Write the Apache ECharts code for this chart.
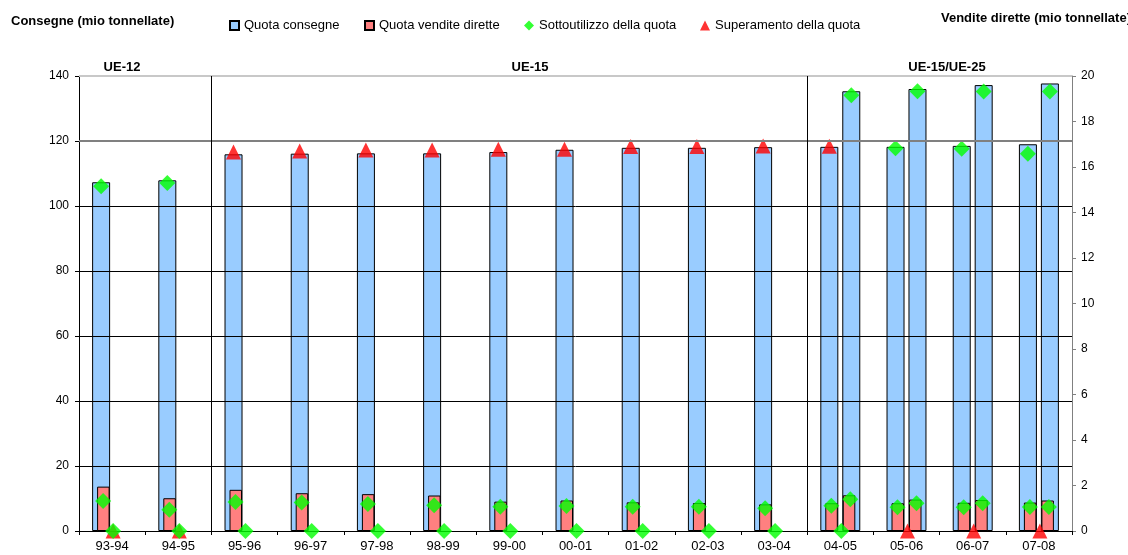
<!DOCTYPE html>
<html>
<head>
<meta charset="utf-8">
<title>Quote latte: consegne e vendite dirette</title>
<script src="https://cdn.jsdelivr.net/npm/echarts@6/dist/echarts.min.js"></script>
<style>
  html, body { margin: 0; padding: 0; background: #ffffff; }
  #chart { width: 1128px; height: 555px; }
</style>
</head>
<body>
<div id="chart"></div>
<script>
// Campagne lattiere
const categories = ['93-94', '94-95', '95-96', '96-97', '97-98', '98-99', '99-00', '00-01',
                    '01-02', '02-03', '03-04', '04-05', '05-06', '06-07', '07-08'];

// Quota consegne (mio t, asse sinistro): colonna UE-12/UE-15 e colonna UE-25
const quotaConsegneA = [107.3, 107.9, 115.9, 116.1, 116.2, 116.2, 116.6, 117.3, 117.9, 117.9, 118.1, 118.2, 118.2, 118.5, 119.0];
const quotaConsegneB = [null, null, null, null, null, null, null, null, null, null, null, 135.3, 136.0, 137.2, 137.7];

// Consegne effettive (mio t, asse sinistro)
const consegneEffA = [106.1, 107.1, 116.6, 116.9, 117.2, 117.2, 117.5, 117.5, 118.3, 118.3, 118.5, 118.4, 117.8, 117.6, 116.1];
const consegneEffB = [null, null, null, null, null, null, null, null, null, null, null, 134.1, 135.3, 135.2, 135.2];

// Quota vendite dirette (mio t, asse destro)
const quotaVenditeA = [1.95, 1.44, 1.81, 1.66, 1.62, 1.56, 1.29, 1.34, 1.26, 1.23, 1.17, 1.22, 1.22, 1.24, 1.25];
const quotaVenditeB = [null, null, null, null, null, null, null, null, null, null, null, 1.57, 1.38, 1.36, 1.34];

// Vendite dirette effettive (mio t, asse destro)
const venditeEffA = [1.32, 0.93, 1.28, 1.25, 1.19, 1.13, 1.07, 1.10, 1.07, 1.07, 1.00, 1.11, 1.04, 1.04, 1.06];
const venditeEffB = [null, null, null, null, null, null, null, null, null, null, null, 1.40, 1.22, 1.22, 1.06];

// Indicatori a quota zero (asse destro)
const zeroSotto = [0, 0, 0, 0, 0, 0, 0, 0, 0, 0, 0, 0, null, null, null];
const zeroSuper = [0, 0, null, null, null, null, null, null, null, null, null, null, 0, 0, 0];

// Gruppi di Stati membri e numero di campagne per gruppo
const gruppi = ['UE-12', 'UE-15', 'UE-15/UE-25'];
const campagnePerGruppo = [2, 9, 4];

// Tacche degli assi
const tickConsegne = [0, 20, 40, 60, 80, 100, 120, 140];
const tickVendite = [0, 2, 4, 6, 8, 10, 12, 14, 16, 18, 20];

const FONT = '"Liberation Sans", Arial, sans-serif';
const BLU = '#99CCFF', ROSSO = '#FF8080', VERDE = '#00FF00', TRIANGOLO = '#FF0000';

// Split effective values into under-quota (diamond) and over-quota (triangle)
function sotto(eff, quota) { return eff.map((v, i) => (v != null && quota[i] != null && v <= quota[i]) ? v : null); }
function sopra(eff, quota) { return eff.map((v, i) => (v != null && quota[i] != null && v > quota[i]) ? v : null); }

// Group separators at cumulative category boundaries
const separatori = [];
campagnePerGruppo.reduce((acc, n, i) => {
  const fine = acc + n;
  if (i < campagnePerGruppo.length - 1) separatori.push(fine);
  return fine;
}, 0);

// Gridline styles (the two top lines are lighter and thicker)
const gridStyle = v => {
  if (v === tickConsegne[tickConsegne.length - 1]) return { color: '#c8c8c8', width: 2, type: 'solid' };
  if (v === tickConsegne[tickConsegne.length - 2]) return { color: '#808080', width: 2, type: 'solid' };
  return { color: '#000000', width: 1, type: 'solid' };
};

const DIAMANTE = 16, TRI = [15, 15];

const markerBase = {
  type: 'scatter',
  xAxisIndex: 0,
  animation: false,
  silent: true,
  z: 4
};

const legendText = { fontFamily: FONT, fontSize: 13, color: '#000' };

const chart = echarts.init(document.getElementById('chart'), null, { renderer: 'canvas' });

const option = {
  animation: false,
  backgroundColor: '#ffffff',
  textStyle: { fontFamily: FONT, color: '#000' },
  title: [
    { text: 'Consegne (mio tonnellate)', left: 11, top: 15, padding: 0,
      textStyle: { fontFamily: FONT, fontSize: 13, fontWeight: 'bold', color: '#000' } },
    { text: 'Vendite dirette (mio tonnellate)', left: 941, top: 12, padding: 0,
      textStyle: { fontFamily: FONT, fontSize: 13, fontWeight: 'bold', color: '#000' } }
  ],
  legend: [
    { data: ['Quota consegne'], left: 229, top: 19, padding: 0, itemWidth: 9, itemHeight: 9, icon: 'rect',
      textStyle: legendText, selectedMode: false },
    { data: ['Quota vendite dirette'], left: 364, top: 19, padding: 0, itemWidth: 9, itemHeight: 9, icon: 'rect',
      textStyle: legendText, selectedMode: false },
    { data: ['Sottoutilizzo della quota'], left: 524, top: 19, padding: 0, itemWidth: 10, itemHeight: 10,
      textStyle: legendText, selectedMode: false },
    { data: ['Superamento della quota'], left: 700, top: 19, padding: 0, itemWidth: 10, itemHeight: 10,
      textStyle: legendText, selectedMode: false }
  ],
  grid: { left: 79, right: 56, top: 76, bottom: 24, containLabel: false },
  xAxis: [
    { type: 'category', data: categories, boundaryGap: true,
      axisLine: { show: true, lineStyle: { color: '#000', width: 1 } },
      axisTick: { show: true, length: 4, lineStyle: { color: '#000' } },
      axisLabel: { fontFamily: FONT, fontSize: 13, color: '#000', margin: 9, interval: 0 },
      splitLine: { show: false } },
    { type: 'category', data: categories, show: false, boundaryGap: true },
    { type: 'value', min: 0, max: categories.length, show: false }
  ],
  yAxis: [
    { type: 'value', min: tickConsegne[0], max: tickConsegne[tickConsegne.length - 1], interval: tickConsegne[1] - tickConsegne[0],
      position: 'left',
      axisLine: { show: true, lineStyle: { color: '#000', width: 1 } },
      axisTick: { show: true, length: 4, lineStyle: { color: '#000' } },
      axisLabel: { fontFamily: FONT, fontSize: 12, color: '#000', margin: 10 },
      splitLine: { show: false } },
    { type: 'value', min: tickVendite[0], max: tickVendite[tickVendite.length - 1], interval: tickVendite[1] - tickVendite[0],
      position: 'right',
      axisLine: { show: true, lineStyle: { color: '#808080', width: 1 } },
      axisTick: { show: true, length: 4, lineStyle: { color: '#808080' } },
      axisLabel: { fontFamily: FONT, fontSize: 12, color: '#000', margin: 9 },
      splitLine: { show: false } }
  ],
  series: [
    // Gridlines and group separators
    { type: 'scatter', xAxisIndex: 2, yAxisIndex: 0, data: [], silent: true, z: 0,
      markLine: {
        silent: true, symbol: ['none', 'none'], animation: false, label: { show: false },
        data: tickConsegne.slice(1).map(v => ({ yAxis: v, lineStyle: gridStyle(v) }))
          .concat(separatori.map(x => ({ xAxis: x, lineStyle: { color: '#000', width: 1, type: 'solid' } })))
      } },

    // Quota consegne bars
    { name: 'Quota consegne', type: 'bar', xAxisIndex: 0, yAxisIndex: 0, data: quotaConsegneA,
      barWidth: 18, barGap: '22%', z: 2,
      itemStyle: { color: BLU, borderColor: '#000', borderWidth: 1 } },
    { name: 'Quota consegne', type: 'bar', xAxisIndex: 0, yAxisIndex: 0, data: quotaConsegneB,
      barWidth: 18, barGap: '22%', z: 2,
      itemStyle: { color: BLU, borderColor: '#000', borderWidth: 1 } },

    // Quota vendite dirette bars (right axis)
    { name: 'Quota vendite dirette', type: 'bar', xAxisIndex: 1, yAxisIndex: 1, data: quotaVenditeA,
      barWidth: 12.5, barGap: '40%', z: 3,
      itemStyle: { color: ROSSO, borderColor: '#000', borderWidth: 1 } },
    { name: 'Quota vendite dirette', type: 'bar', xAxisIndex: 1, yAxisIndex: 1, data: quotaVenditeB,
      barWidth: 12.5, barGap: '40%', z: 3,
      itemStyle: { color: ROSSO, borderColor: '#000', borderWidth: 1 } },

    // Deliveries against quota (left axis)
    Object.assign({}, markerBase, { name: 'Sottoutilizzo della quota', yAxisIndex: 0, data: sotto(consegneEffA, quotaConsegneA),
      symbol: 'diamond', symbolSize: DIAMANTE, symbolOffset: [-11, 0], itemStyle: { color: VERDE } }),
    Object.assign({}, markerBase, { name: 'Sottoutilizzo della quota', yAxisIndex: 0, data: sotto(consegneEffB, quotaConsegneB),
      symbol: 'diamond', symbolSize: DIAMANTE, symbolOffset: [11, 0], itemStyle: { color: VERDE } }),
    Object.assign({}, markerBase, { name: 'Superamento della quota', yAxisIndex: 0, data: sopra(consegneEffA, quotaConsegneA),
      symbol: 'triangle', symbolSize: TRI, symbolOffset: [-11, 0], itemStyle: { color: TRIANGOLO } }),
    Object.assign({}, markerBase, { name: 'Superamento della quota', yAxisIndex: 0, data: sopra(consegneEffB, quotaConsegneB),
      symbol: 'triangle', symbolSize: TRI, symbolOffset: [11, 0], itemStyle: { color: TRIANGOLO } }),

    // Direct sales against quota (right axis)
    Object.assign({}, markerBase, { name: 'Sottoutilizzo della quota', yAxisIndex: 1, data: sotto(venditeEffA, quotaVenditeA),
      symbol: 'diamond', symbolSize: DIAMANTE, symbolOffset: [-9, 0], itemStyle: { color: VERDE } }),
    Object.assign({}, markerBase, { name: 'Sottoutilizzo della quota', yAxisIndex: 1, data: sotto(venditeEffB, quotaVenditeB),
      symbol: 'diamond', symbolSize: DIAMANTE, symbolOffset: [10, 0], itemStyle: { color: VERDE } }),

    // Zero-level indicators
    Object.assign({}, markerBase, { name: 'Superamento della quota', yAxisIndex: 1, data: zeroSuper,
      symbol: 'triangle', symbolSize: TRI, symbolOffset: [1, 0], itemStyle: { color: TRIANGOLO }, z: 4 }),
    Object.assign({}, markerBase, { name: 'Sottoutilizzo della quota', yAxisIndex: 1, data: zeroSotto,
      symbol: 'diamond', symbolSize: DIAMANTE, symbolOffset: [1, 0], itemStyle: { color: VERDE }, z: 5 })
  ],
  graphic: [
    { type: 'text', x: 122, y: 67, silent: true,
      style: { text: gruppi[0], x: 0, y: 0, align: 'center', verticalAlign: 'middle',
               font: 'bold 13px ' + FONT, fill: '#000' } },
    { type: 'text', x: 530, y: 67, silent: true,
      style: { text: gruppi[1], x: 0, y: 0, align: 'center', verticalAlign: 'middle',
               font: 'bold 13px ' + FONT, fill: '#000' } },
    { type: 'text', x: 947, y: 67, silent: true,
      style: { text: gruppi[2], x: 0, y: 0, align: 'center', verticalAlign: 'middle',
               font: 'bold 13px ' + FONT, fill: '#000' } }
  ]
};

chart.setOption(option);
</script>
</body>
</html>
